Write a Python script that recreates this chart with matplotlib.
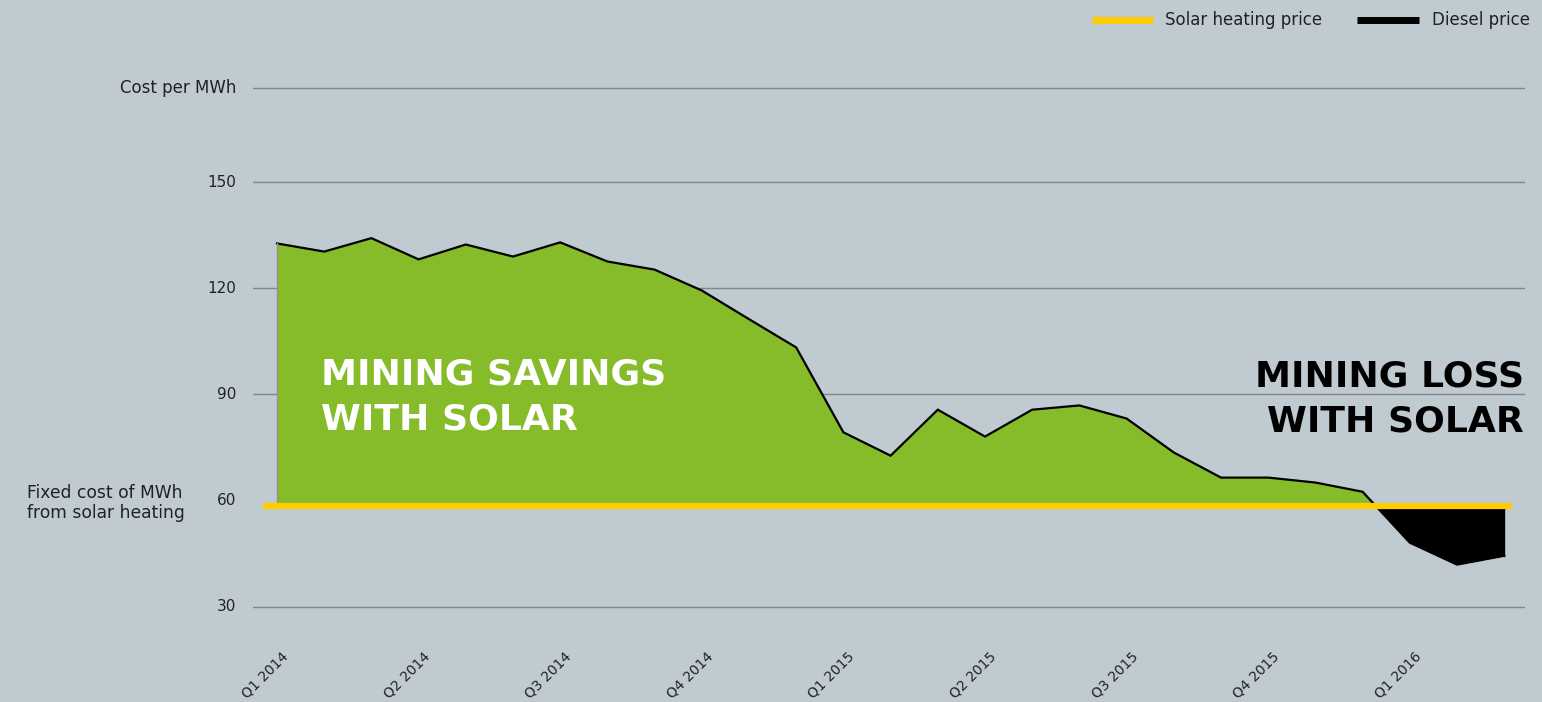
import matplotlib
matplotlib.use("Agg")
import matplotlib.pyplot as plt
import matplotlib.transforms as mtransforms
import numpy as np

# ---- data ----
months = list(range(27))  # Jan 2014 .. Mar 2016, monthly
diesel_price = [132.7, 130.4, 134.2, 128.2, 132.4, 129.0, 133.0, 127.6, 125.3,
                119.4, 111.3, 103.3, 79.3, 72.7, 85.7, 78.1, 85.7, 86.9, 83.2,
                73.6, 66.5, 66.5, 65.1, 62.5, 48.1, 41.9, 44.4]
solar_price = 58.6
quarter_labels = ["Q1 2014", "Q2 2014", "Q3 2014", "Q4 2014", "Q1 2015",
                  "Q2 2015", "Q3 2015", "Q4 2015", "Q1 2016"]
quarter_pos = [0, 3, 6, 9, 12, 15, 18, 21, 24]
ytick_vals = [30, 60, 90, 120, 150]
ytick_labels = ["30", "60", "90", "120", "150"]
top_line_val = 176.6
top_line_label = "Cost per MWh"

# ---- style ----
BG = "#C0CBD1"
GREEN = "#86BC29"
YELLOW = "#FFCC00"
GRID = "#7E878C"
TXT = "#222222"
FONT = "DejaVu Sans"

W, H = 1542, 702
fig = plt.figure(figsize=(W / 100, H / 100), dpi=100, facecolor=BG)

ymin, ymax = 25, 180
px_per_unit = 3.537
y30 = 606.7
top_px = y30 - (ymax - 30) * px_per_unit
bot_px = y30 + (30 - ymin) * px_per_unit
left_px, right_px = 253, 1525
ax = fig.add_axes([left_px / W, 1 - bot_px / H, (right_px - left_px) / W, (bot_px - top_px) / H])
ax.set_facecolor(BG)
x0_px, dx_px = 277, 47.2
ax.set_xlim(-(x0_px - left_px) / dx_px, 26 + (right_px - (x0_px + 26 * dx_px)) / dx_px)
ax.set_ylim(ymin, ymax)
for s in ax.spines.values():
    s.set_visible(False)
ax.tick_params(left=False, bottom=False, labelleft=False, labelbottom=False)

x = np.array(months, dtype=float)
d = np.array(diesel_price)

# grid lines
for v in ytick_vals + [top_line_val]:
    if v == 60:
        continue
    ax.axhline(v, color=GRID, lw=1.0, zorder=1)

ax.fill_between(x, d, solar_price, where=d >= solar_price, interpolate=True,
                color=GREEN, lw=0, zorder=2)
ax.fill_between(x, d, solar_price, where=d <= solar_price, interpolate=True,
                color="black", lw=0, zorder=2)
ax.plot(x, d, color="black", lw=1.6, zorder=3, solid_joinstyle="miter")
ax.plot([x[0], x[0]], [solar_price, d[0]], color="#8a9a80", lw=1.0, zorder=3)
ax.plot([x[-1], x[-1]], [d[-1], solar_price], color="black", lw=1.0, zorder=3)
ax.plot([-0.3, 26.17], [solar_price, solar_price], color=YELLOW, lw=4.5,
        solid_capstyle="butt", zorder=4)

# y labels
for v, lab in zip(ytick_vals, ytick_labels):
    ax.text(-0.86, v, lab, ha="right", va="center", fontsize=11, color=TXT,
            family=FONT)
ax.text(-0.86, top_line_val, top_line_label, ha="right", va="center", fontsize=12,
        color=TXT, family=FONT)

fig.text(27 / W, 1 - 503 / H, "Fixed cost of MWh\nfrom solar heating", ha="left",
         va="center", fontsize=12.3, color=TXT, family=FONT, linespacing=1.1)

# x labels
trans = ax.get_xaxis_transform()
off = mtransforms.ScaledTranslation(4 / 100, 0, fig.dpi_scale_trans)
for p, lab in zip(quarter_pos, quarter_labels):
    ax.text(p, -0.046, lab, rotation=45, rotation_mode="anchor", ha="right",
            va="top", fontsize=10, color=TXT, family=FONT,
            transform=trans + off, clip_on=False)

# annotations
fig.text(321 / W, 1 - 397 / H, "MINING SAVINGS\nWITH SOLAR", ha="left", va="center",
         fontsize=26, fontweight="bold", color="white", family=FONT,
         linespacing=1.38)
fig.text(1524 / W, 1 - 399 / H, "MINING LOSS\nWITH SOLAR", ha="right", va="center",
         fontsize=26, fontweight="bold", color="black", family=FONT,
         linespacing=1.38)

# legend
fig.add_artist(plt.Line2D([1092 / W, 1153 / W], [1 - 20 / H] * 2, color=YELLOW, lw=5,
                          solid_capstyle="butt"))
fig.text(1165 / W, 1 - 20 / H, "Solar heating price", ha="left", va="center",
         fontsize=12, color=TXT, family=FONT)
fig.add_artist(plt.Line2D([1357 / W, 1419 / W], [1 - 20 / H] * 2, color="black", lw=5,
                          solid_capstyle="butt"))
fig.text(1432 / W, 1 - 20 / H, "Diesel price", ha="left", va="center",
         fontsize=12, color=TXT, family=FONT)

fig.savefig("out.png", dpi=100, facecolor=BG)
